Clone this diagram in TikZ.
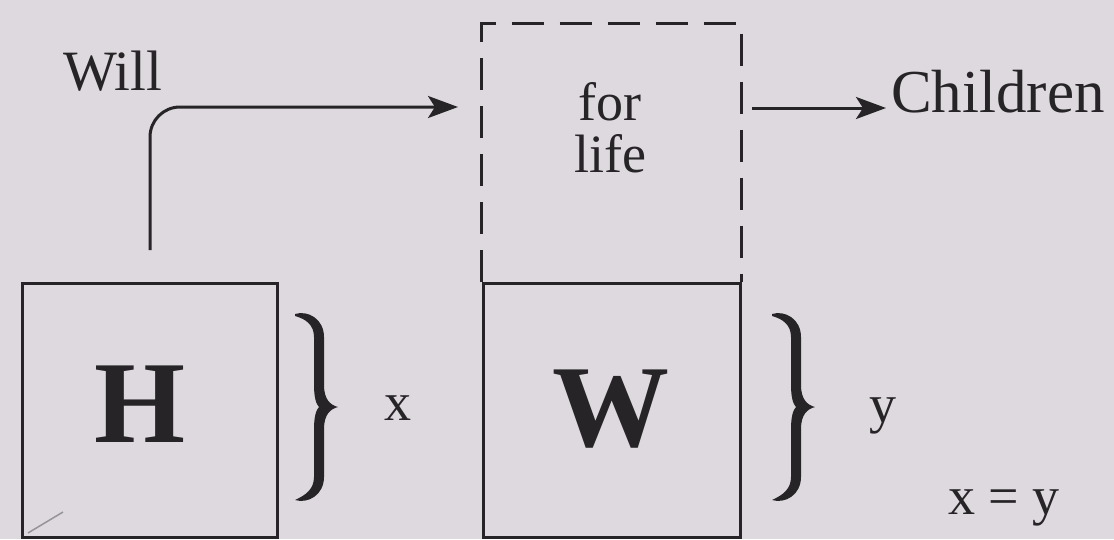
\documentclass[tikz,border=0pt]{standalone}
\usepackage{fontspec}
\setmainfont{Liberation Serif}
\usetikzlibrary{arrows.meta,calc}
\definecolor{paper}{RGB}{221,217,222}
\definecolor{ink}{RGB}{38,36,38}
\definecolor{faint}{RGB}{150,148,152}
\begin{document}
\begin{tikzpicture}[x=1pt,y=-1pt,
  box/.style={draw=ink, line width=3pt, inner sep=0pt, minimum height=254pt},
  txt/.style={text=ink, inner sep=0pt, font=\fontsize{57}{57}\selectfont},
  lbl/.style={text=ink, inner sep=0pt, font=\fontsize{54}{54}\selectfont},
  letter/.style={text=ink, inner sep=0pt, font=\fontsize{117}{117}\selectfont\bfseries},
  conn/.style={draw=ink, line width=3pt, -{Stealth[length=30pt,width=22pt,inset=7pt]}},
  rbrace/.pic={\fill[ink] (-43,-93) .. controls (-30,-97) and (-14,-88) .. (-14,-70)
      -- (-14,-22) .. controls (-14,-8) and (-8,-2) .. (0,0)
      .. controls (-8,2) and (-14,8) .. (-14,22) -- (-14,70)
      .. controls (-14,88) and (-30,97) .. (-43,93)
      .. controls (-32,88) and (-24,82) .. (-24,70) -- (-24,22)
      .. controls (-24,10) and (-22,3) .. (-19,0)
      .. controls (-22,-3) and (-24,-10) .. (-24,-22) -- (-24,-70)
      .. controls (-24,-82) and (-32,-88) .. (-43,-91) -- cycle;}
]
\fill[paper] (0,0) rectangle (1114,539);
\useasboundingbox (0,0) rectangle (1114,539);

% boxes
\node[box, minimum width=255pt] (Hbox) at (149.5,410) {};
\node[box, minimum width=257pt] (Wbox) at (611.5,410) {};
\node[letter, anchor=base] (Hl) at (140,442) {H};
\node[letter, anchor=base] (Wl) at (611,446) {W};

% dashed extension of W box
\draw[ink, line width=3pt, dash pattern=on 32pt off 16pt]
  (Wbox.north west) -- ++(0,-258) -| (Wbox.north east);
\node[txt, align=center, font=\fontsize{54}{52}\selectfont] (forlife) at (610,128) {for\\life};

% texts
\node[txt, anchor=base west] (will) at (63,90) {Will};
\node[txt, anchor=base west, font=\fontsize{61}{61}\selectfont] (children) at (891,112) {Children};

% connectors
\coordinate (ws) at (150,250);
\coordinate (we) at (458,107);
\draw[conn, rounded corners=30pt] (ws) |- (we);
\coordinate (cs) at (752,108);
\draw[conn, shorten >=5pt] (cs) -- (cs -| children.west);

% braces and labels
\pic at (338,407) {rbrace};
\pic at (815,407) {rbrace};
\node[lbl, anchor=base] (xl) at (398,420) {x};
\node[lbl, anchor=base] (yl) at (883,422) {y};
\node[lbl, anchor=base west] (eq) at (948,514) {x = y};

% faint tick
\draw[faint, line width=1.5pt] (28,533) -- (63,512);
\end{tikzpicture}
\end{document}
